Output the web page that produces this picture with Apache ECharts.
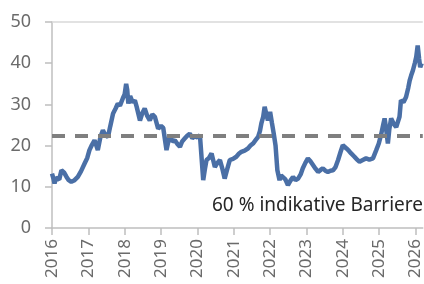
<!DOCTYPE html>
<html>
<head>
<meta charset="utf-8">
<script src="https://cdn.jsdelivr.net/npm/echarts@6/dist/echarts.min.js"></script>
<style>html,body{margin:0;padding:0;background:#fff}#c{width:424px;height:284px}</style>
</head>
<body>
<div id="c"></div>
<script>
const years = [2016.0,2016.04,2016.07,2016.11,2016.15,2016.2,2016.26,2016.33,2016.4,2016.46,2016.53,2016.62,2016.71,2016.8,2016.9,2016.97,2017.03,2017.1,2017.17,2017.22,2017.26,2017.33,2017.4,2017.47,2017.54,2017.6,2017.68,2017.75,2017.81,2017.87,2017.95,2018.0,2018.04,2018.07,2018.1,2018.15,2018.22,2018.28,2018.33,2018.42,2018.48,2018.55,2018.62,2018.69,2018.76,2018.83,2018.92,2019.0,2019.06,2019.15,2019.2,2019.24,2019.31,2019.38,2019.45,2019.52,2019.58,2019.65,2019.72,2019.79,2019.86,2019.93,2020.0,2020.07,2020.11,2020.16,2020.21,2020.25,2020.32,2020.39,2020.48,2020.55,2020.62,2020.68,2020.75,2020.82,2020.89,2020.98,2021.07,2021.14,2021.21,2021.3,2021.39,2021.46,2021.53,2021.6,2021.67,2021.72,2021.76,2021.81,2021.85,2021.9,2021.94,2022.0,2022.05,2022.1,2022.15,2022.2,2022.26,2022.3,2022.35,2022.42,2022.49,2022.56,2022.63,2022.7,2022.77,2022.84,2022.9,2022.97,2023.04,2023.11,2023.18,2023.25,2023.32,2023.39,2023.45,2023.52,2023.59,2023.66,2023.73,2023.8,2023.87,2023.94,2024.0,2024.05,2024.1,2024.17,2024.23,2024.32,2024.39,2024.46,2024.55,2024.64,2024.73,2024.83,2024.92,2024.99,2025.06,2025.11,2025.15,2025.2,2025.24,2025.28,2025.33,2025.4,2025.47,2025.56,2025.6,2025.67,2025.74,2025.8,2025.84,2025.88,2025.93,2025.98,2026.02,2026.06,2026.1,2026.13,2026.17];
const values = [13.2,12.0,10.8,12.2,12.5,11.8,14.0,13.5,12.4,11.6,11.2,11.6,12.4,13.8,15.7,17.0,18.9,20.2,21.3,20.0,18.9,22.0,23.7,22.5,22.1,24.6,27.8,29.0,30.2,29.7,31.5,32.5,35.0,33.5,30.2,32.0,30.5,31.0,29.4,26.1,27.8,29.0,27.2,26.1,27.6,27.0,24.1,24.8,24.3,18.9,21.0,22.5,21.0,21.3,20.4,19.7,21.0,21.7,22.4,22.9,21.8,22.3,22.0,22.5,22.9,11.6,14.5,16.5,17.0,18.1,14.8,15.8,16.5,14.6,12.0,14.3,16.5,16.8,17.3,18.0,18.5,18.8,19.3,20.0,20.5,21.3,22.1,23.5,25.4,27.0,29.4,27.5,26.1,28.2,25.5,22.9,20.0,14.0,11.6,12.8,13.2,11.8,10.4,11.5,12.4,11.6,12.0,13.0,14.5,15.8,16.9,16.2,15.3,14.4,13.6,14.1,14.5,13.9,13.6,13.9,14.0,14.8,16.5,18.5,20.1,19.8,19.3,18.7,18.1,17.3,16.6,16.1,16.5,16.9,16.6,16.9,18.9,20.5,22.9,25.0,26.6,23.5,20.5,24.0,26.6,25.3,24.5,27.0,31.0,30.5,31.8,34.0,35.8,37.0,38.3,40.0,41.5,44.3,41.0,39.0,40.0];
const yTicks = [0,10,20,30,40,50];
const xTicks = [2016,2017,2018,2019,2020,2021,2022,2023,2024,2025,2026];
const barrier = 22.5;
const barrierLabel = '60 % indikative Barriere';

const data = years.map((y,i)=>[y, values[i]]);
const font = '"Noto Sans", "Open Sans", sans-serif';
const chart = echarts.init(document.getElementById('c'), null, {renderer:'canvas'});
chart.setOption({
  animation:false,
  grid:{left:52, right:1, top:22, bottom:56},
  xAxis:{
    type:'value', min:2016, max:2026.2, interval:1,
    axisLine:{show:true, lineStyle:{color:'#bfbfbf', width:1.5}},
    axisTick:{show:true, length:7, lineStyle:{color:'#bfbfbf', width:1.5}, customValues:xTicks},
    axisLabel:{rotate:90, margin:11, color:'#6b6b6b', fontSize:17, fontFamily:font, customValues:xTicks,
      formatter:v=>String(Math.round(v))},
    splitLine:{show:false}
  },
  yAxis:{
    type:'value', min:0, max:50, interval:10,
    axisLine:{show:true, lineStyle:{color:'#bfbfbf', width:1.5}},
    axisTick:{show:true, length:7, lineStyle:{color:'#bfbfbf', width:1.5}},
    axisLabel:{margin:21, color:'#6b6b6b', fontSize:18, fontFamily:font},
    splitLine:{show:false}
  },
  series:[{
    type:'line', data:data, showSymbol:false, symbol:'none',
    lineStyle:{color:'#4a6fa6', width:4.5},
    markLine:{
      silent:true, symbol:['none','none'], z:10,
      label:{show:false},
      data:[
        {yAxis:barrier, lineStyle:{type:[13,10], color:'#7f7f7f', width:4}},
        {yAxis:50, lineStyle:{type:'solid', color:'#d9d9d9', width:1.5}}
      ]
    }
  }],
  graphic:[{
    type:'text', right:1, top:196,
    style:{text:barrierLabel, fill:'#262626', fontSize:19, fontFamily:font}
  }]
});
</script>
</body>
</html>
